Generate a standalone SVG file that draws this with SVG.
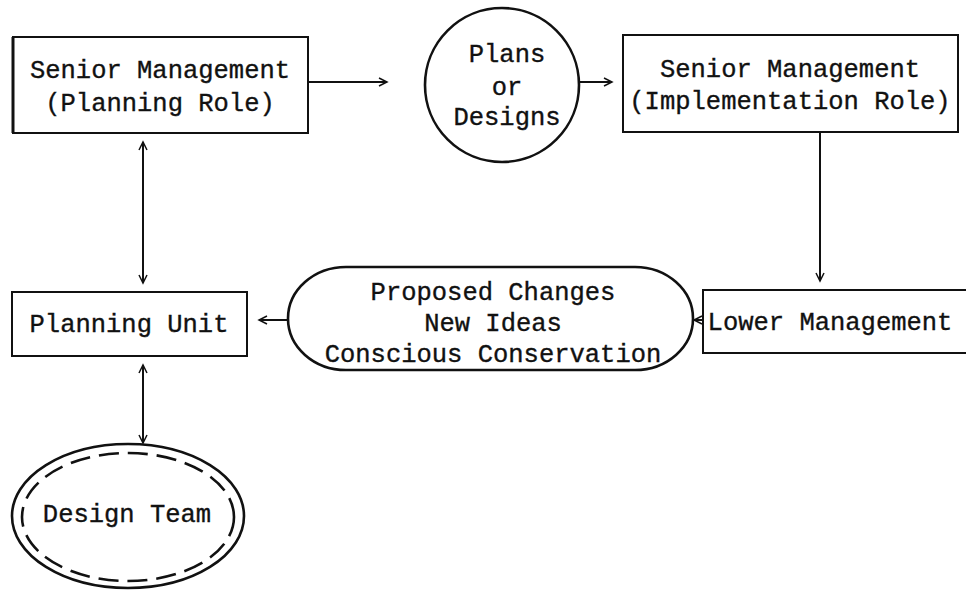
<svg xmlns="http://www.w3.org/2000/svg" width="966" height="591" viewBox="0 0 966 591">
  <style>
    .label { font-family: "Liberation Mono", "Courier New", monospace; font-size: 25.5px; fill: #111; stroke: #111; stroke-width: 0.35; text-anchor: middle; }
    .box { fill: #fff; stroke: #111; stroke-width: 2; }
    .round { fill: #fff; stroke: #111; stroke-width: 2.6; }
    .wire { fill: none; stroke: #111; stroke-width: 2; }
    .dash { fill: none; stroke: #111; stroke-width: 2.6; stroke-dasharray: 20 9; }
  </style>
  <defs>
    <marker id="tip" markerUnits="userSpaceOnUse" markerWidth="12" markerHeight="12" refX="9" refY="5" orient="auto-start-reverse">
      <path d="M1,1 L9,5 L1,9" fill="none" stroke="#111" stroke-width="1.5"/>
    </marker>
  </defs>

  <rect width="966" height="591" fill="#fff"/>

  <g id="connectors">
    <line class="wire" x1="308" y1="82" x2="387" y2="82" marker-end="url(#tip)"/>
    <line class="wire" x1="579" y1="82" x2="612" y2="82" marker-end="url(#tip)"/>
    <line class="wire" x1="820" y1="132" x2="820" y2="281" marker-end="url(#tip)"/>
    <line class="wire" x1="703" y1="320" x2="694" y2="320" marker-end="url(#tip)"/>
    <line class="wire" x1="288" y1="320" x2="259" y2="320" marker-end="url(#tip)"/>
    <line class="wire" x1="143" y1="142" x2="143" y2="283" marker-start="url(#tip)" marker-end="url(#tip)"/>
    <line class="wire" x1="143" y1="365" x2="143" y2="443" marker-start="url(#tip)" marker-end="url(#tip)"/>
  </g>

  <g id="senior-planning">
    <rect class="box" x="13" y="37" width="295" height="96"/>
    <line x1="13" y1="37" x2="13" y2="133" stroke="#111" stroke-width="3"/>
    <text class="label" x="160" y="78">Senior Management</text>
    <text class="label" x="160" y="111">(Planning Role)</text>
  </g>

  <g id="plans">
    <circle class="round" cx="502" cy="85" r="77"/>
    <text class="label" x="507" y="62">Plans</text>
    <text class="label" x="507" y="95">or</text>
    <text class="label" x="507" y="125">Designs</text>
  </g>

  <g id="senior-implementation">
    <rect class="box" x="623" y="35" width="335" height="97"/>
    <text class="label" x="790" y="77">Senior Management</text>
    <text class="label" x="790" y="109">(Implementation Role)</text>
  </g>

  <g id="lower-management">
    <rect class="box" x="703" y="290" width="280" height="63"/>
    <text class="label" x="830" y="330">Lower Management</text>
  </g>

  <g id="proposals">
    <rect class="round" x="288" y="267" width="405" height="103" rx="58" ry="51.5"/>
    <text class="label" x="493" y="300">Proposed Changes</text>
    <text class="label" x="493" y="331">New Ideas</text>
    <text class="label" x="493" y="362">Conscious Conservation</text>
  </g>

  <g id="planning-unit">
    <rect class="box" x="12" y="292" width="235" height="64"/>
    <text class="label" x="129" y="332">Planning Unit</text>
  </g>

  <g id="design-team">
    <ellipse class="round" cx="128" cy="516" rx="116" ry="72"/>
    <ellipse class="dash" cx="128" cy="517" rx="106" ry="64"/>
    <text class="label" x="127" y="522">Design Team</text>
  </g>
</svg>
